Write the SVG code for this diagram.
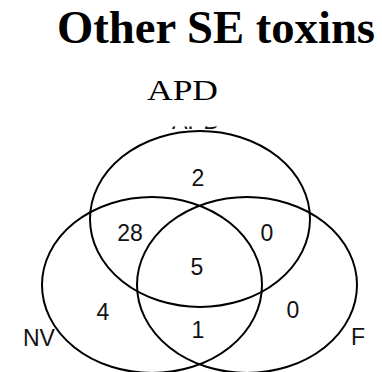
<svg xmlns="http://www.w3.org/2000/svg" width="382" height="372" viewBox="0 0 382 372">
<defs>
<style>
.set{fill:none;stroke:#000;stroke-width:2}
.num{font-family:"Liberation Sans",Arial,sans-serif;font-size:23px;fill:#111;text-anchor:middle}
.lbl{font-family:"Liberation Sans",Arial,sans-serif;font-size:23px;fill:#111}
</style>
<clipPath id="hide"><rect x="0" y="126.5" width="382" height="3"/></clipPath>
</defs>
<rect width="382" height="372" fill="#fff"/>
<text x="57" y="43" font-family="'Liberation Serif','Times New Roman',serif" font-weight="bold" font-size="46" textLength="318" lengthAdjust="spacingAndGlyphs">Other SE toxins</text>
<text x="147" y="100" font-family="'Liberation Serif','Times New Roman',serif" font-size="30" textLength="71" lengthAdjust="spacingAndGlyphs">APD</text>
<g id="connectors"></g>
<g id="set-apd">
<ellipse class="set" cx="200" cy="219" rx="110" ry="88"/>
<text class="lbl" x="172" y="128.5" clip-path="url(#hide)" textLength="48" lengthAdjust="spacingAndGlyphs">APD</text>
</g>
<g id="set-nv">
<ellipse class="set" cx="152" cy="285" rx="110" ry="88"/>
<text class="lbl" x="23" y="346">NV</text>
</g>
<g id="set-f">
<ellipse class="set" cx="247" cy="285" rx="110" ry="88"/>
<text class="lbl" x="351" y="345">F</text>
</g>
<g id="counts">
<text class="num" x="198" y="186">2</text>
<text class="num" x="130" y="241">28</text>
<text class="num" x="267" y="241">0</text>
<text class="num" x="197" y="275">5</text>
<text class="num" x="103" y="320">4</text>
<text class="num" x="198" y="338">1</text>
<text class="num" x="293" y="318">0</text>
</g>
</svg>
